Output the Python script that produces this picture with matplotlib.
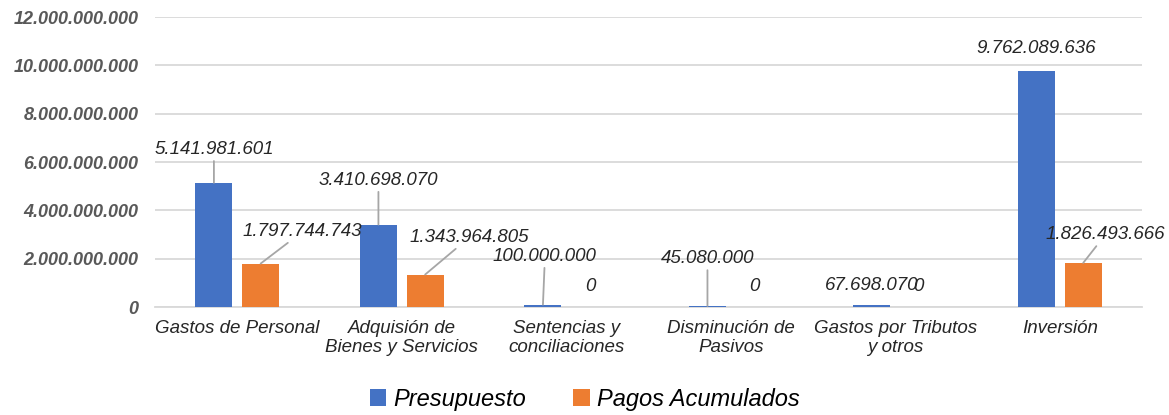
import matplotlib.pyplot as plt
import numpy as np

categories = ["Gastos de Personal", "Adquisión de\nBienes y Servicios", "Sentencias y\nconciliaciones",
              "Disminución de\nPasivos", "Gastos por Tributos\ny otros", "Inversión"]
presupuesto = [5141981601, 3410698070, 100000000, 45080000, 67698070, 9762089636]
pagos = [1797744743, 1343964805, 0, 0, 0, 1826493666]

# label offsets from bar top (pixels) and whether a leader line is drawn
pres_offsets = [(0, 33), (0, 44), (2, 48), (0, 47), (0, 20), (0, 23)]
pres_leader = [True, True, True, True, False, False]
pagos_offsets = [(42, 32), (44, 37), (1, 21), (0, 21), (0, 21), (22, 28)]
pagos_leader = [True, True, False, False, False, True]

BLUE = "#4472C4"
ORANGE = "#ED7D31"
GRID = "#D9D9D9"


def fmt(v):
    return f"{int(v):,}".replace(",", ".")


plt.rcParams["font.family"] = ["Liberation Sans", "DejaVu Sans"]

fig = plt.figure(figsize=(11.69, 4.15), dpi=100)
ax = fig.add_axes([0.1326, 0.2602, 0.977 - 0.1326, 0.959 - 0.2602])

x = np.arange(len(categories))
w = 0.225
off = 0.142
b1 = ax.bar(x - off, presupuesto, w, color=BLUE, label="Presupuesto", zorder=3)
b2 = ax.bar(x + off, pagos, w, color=ORANGE, label="Pagos Acumulados", zorder=3)

ax.set_xlim(-0.5, 5.5)
ax.set_ylim(0, 12e9)
yticks = np.arange(0, 12e9 + 1, 2e9)
ax.set_yticks(yticks, labels=[fmt(v) for v in yticks], fontsize=13, fontweight="bold",
              fontstyle="italic", color="#595959")
ax.set_xticks(x, labels=categories, fontsize=13.5, fontstyle="italic", color="#262626",
              linespacing=1.2)
ax.tick_params(axis="both", length=0)
ax.tick_params(axis="y", pad=12)
ax.tick_params(axis="x", pad=9)

ax.grid(axis="y", color=GRID, linewidth=1.3, zorder=0)
for s in ["left", "right", "top"]:
    ax.spines[s].set_visible(False)
ax.spines["bottom"].set_color(GRID)
ax.spines["bottom"].set_linewidth(1.3)


def add_labels(xs, vals, offsets, leaders):
    for xi, v, (dx, dy), lead in zip(xs, vals, offsets, leaders):
        props = dict(arrowstyle="-", color="#A6A6A6", lw=1.3, shrinkA=0, shrinkB=0) if lead else None
        ax.annotate(fmt(v), xy=(xi, v), xytext=(dx, dy), textcoords="offset pixels",
                    ha="center", va="center", fontsize=13.5, fontstyle="italic", color="#262626",
                    arrowprops=props, zorder=4)


add_labels(x - off, presupuesto, pres_offsets, pres_leader)
add_labels(x + off, pagos, pagos_offsets, pagos_leader)

fig.legend(handles=[b1, b2], loc="center", bbox_to_anchor=(0.5, 0.038), ncol=2, frameon=False,
           prop=dict(family=["Liberation Sans"], style="italic", size=17),
           handlelength=0.7, handleheight=0.7, handletextpad=0.3, columnspacing=2.0)

fig.savefig("out.png", dpi=100)
